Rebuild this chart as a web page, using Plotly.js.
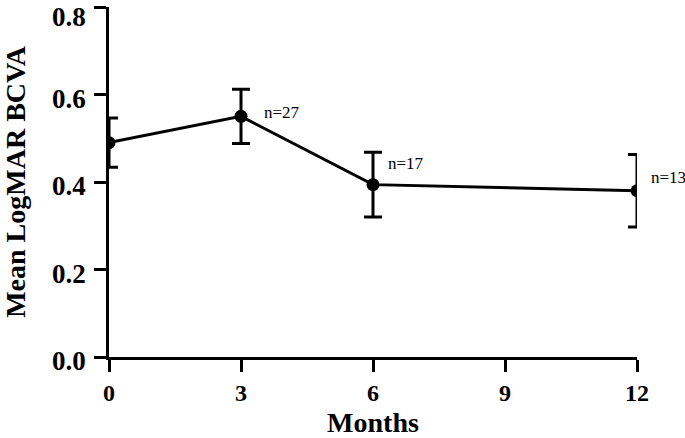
<!DOCTYPE html>
<html>
<head>
<meta charset="utf-8">
<script src="https://cdn.plot.ly/plotly-3.0.1.min.js"></script>
<style>html,body{margin:0;padding:0;background:#fff;}#chart{width:685px;height:438px;}</style>
</head>
<body>
<div id="chart"></div>
<script>
const months = [0, 3, 6, 12];
const meanLogMAR = [0.490, 0.550, 0.394, 0.380];
const errSD = [0.056, 0.062, 0.074, 0.083];
const nLabels = ["", "n=27", "n=17", "n=13"];
const labelY = [null, 0.56, 0.442, 0.411];
const labelShift = [0, 21, 13, 12];
const xTicks = [0, 3, 6, 9, 12];
const yTicks = [0, 0.2, 0.4, 0.6, 0.8];

const font = "Liberation Serif, Times New Roman, serif";

const trace = {
  x: months, y: meanLogMAR, type: "scatter", mode: "lines+markers",
  line: {color: "#000", width: 3},
  marker: {color: "#000", size: 13},
  error_y: {type: "data", array: errSD, visible: true, color: "#000", thickness: 3, width: 9},
  cliponaxis: true, showlegend: false, hoverinfo: "none"
};

const annotations = [];
for (let i = 0; i < months.length; i++) {
  if (!nLabels[i]) continue;
  annotations.push({
    x: months[i], y: labelY[i], xref: "x", yref: "y", text: nLabels[i],
    showarrow: false, xanchor: "left", yanchor: "middle", xshift: labelShift[i],
    font: {family: font, size: 17, color: "#000"}
  });
}
// y tick labels (drawn slightly below their ticks, as in the reference)
yTicks.forEach((v, i) => {
  const top = i === yTicks.length - 1;
  annotations.push({
    x: 0, y: v, xref: "paper", yref: "y", text: v.toFixed(1),
    showarrow: false, xanchor: "right", yanchor: top ? "top" : "middle",
    xshift: -21, yshift: top ? 7 : -4,
    font: {family: font, size: 27, weight: "bold", color: "#000"}
  });
});

const layout = {
  width: 685, height: 438,
  margin: {l: 109, r: 48, t: 7, b: 81, pad: 0},
  paper_bgcolor: "#fff", plot_bgcolor: "#fff",
  font: {family: font, color: "#000"},
  xaxis: {
    range: [0, 12], tickvals: xTicks, ticktext: xTicks.map(String),
    showgrid: false, zeroline: false, showline: true, linecolor: "#000", linewidth: 3,
    ticks: "outside", ticklen: 12, tickwidth: 3, tickcolor: "#000",
    ticklabeloverflow: "allow",
    tickfont: {family: font, size: 24, weight: "bold", color: "#000"},
    title: {text: "Months", font: {family: font, size: 28, weight: "bold", color: "#000"}, standoff: 23}
  },
  yaxis: {
    range: [0, 0.8], tickvals: yTicks, showticklabels: false,
    showgrid: false, zeroline: false, showline: true, linecolor: "#000", linewidth: 3,
    ticks: "outside", ticklen: 12, tickwidth: 3, tickcolor: "#000",
    title: {text: "Mean LogMAR BCVA", font: {family: font, size: 28, weight: "bold", color: "#000"}, standoff: 65}
  },
  annotations: annotations
};

Plotly.newPlot("chart", [trace], layout, {staticPlot: true, displayModeBar: false});
</script>
</body>
</html>
